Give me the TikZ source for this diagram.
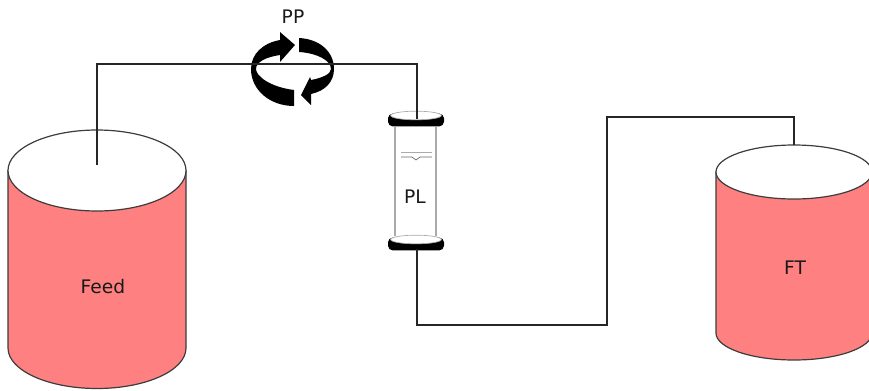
\documentclass[tikz,border=0pt]{standalone}
\usepackage{fontspec}
\setmainfont{DejaVu Sans}
\definecolor{TankRed}{RGB}{255,128,128}
\definecolor{TankEdge}{RGB}{60,60,60}
\definecolor{TubeGray}{RGB}{170,170,170}
\usetikzlibrary{shapes.geometric}

\begin{document}
\begin{tikzpicture}[x=0.75pt, y=-0.75pt,
  tankbody/.style={draw=TankEdge, fill=TankRed, line width=0.9pt},
  tanktop/.style={draw=TankEdge, fill=white, line width=0.9pt},
  pipe/.style={line width=0.9pt, black!85},
  tube/.style={line width=1.6pt, TubeGray},
  label/.style={font=\fontsize{14}{16}\selectfont, black!90},
  disc/.style={rectangle, rounded corners=3.5pt, fill=black, inner sep=0pt, minimum width=42pt, minimum height=9.5pt},
  rim/.style={ellipse, draw=TubeGray, fill=white, line width=0.5pt, inner sep=0pt, minimum width=38pt, minimum height=6.5pt}
]
\useasboundingbox (0,0) rectangle (869,390);

\draw[tankbody] (8,170.5) -- (8,348) arc[start angle=180, end angle=0, x radius=89, y radius=40.5] -- (186,170.5) -- cycle;
\draw[tanktop] (97,170.5) circle[x radius=89, y radius=40.5];
\draw[tankbody] (716,172) -- (716,333) arc[start angle=180, end angle=0, x radius=78, y radius=27] -- (872,172) -- cycle;
\draw[tanktop] (794,172) circle[x radius=78, y radius=27];
\node[label] (feedlabel) at (103,287) {Feed};
\node[label] (ftlabel) at (795,268) {FT};

\fill[black] (294,106) .. controls (270,106) and (251,90) .. (251,69)
  .. controls (251,54) and (263,43) .. (280,40) -- (280,32) -- (295,45) -- (280,62) -- (280,55)
  .. controls (266,57) and (256,62) .. (256,69)
  .. controls (256,76) and (270,87) .. (294,90) -- cycle;
\fill[black] (299,38) .. controls (320,39) and (334,52) .. (334,69)
  .. controls (334,82) and (325,91) .. (311,94) -- (311,105) -- (301,95) -- (310,77) -- (311,80)
  .. controls (322,78) and (331,74) .. (331,69)
  .. controls (331,60) and (316,53) .. (299,52) -- cycle;
\node[label] (pplabel) at (293,17) {PP};

\node[disc] (topbase) at (416,120) {};
\node[rim] (toprim) at (416,115.5) {};
\node[disc] (botbase) at (416,244) {};
\node[rim] (botrim) at (416,239.5) {};
\draw[tube] (395,126) -- (395,236);
\draw[tube] (436,126) -- (436,236);
\draw[line width=0.5pt, TubeGray] (401,152) -- (432,152);
\draw[line width=0.5pt, black!60] (401,157) -- (412,157) -- (416,160) -- (420,157) -- (432,157);
\node[label] (pllabel) at (415,197) {PL};

\coordinate (feedin) at (97,165);
\coordinate (ftin) at (794,145);
\coordinate (plin) at (417,119);
\coordinate (plout) at (417,249);
\draw[pipe] (feedin) -- (97,64) -- (417,64) -- (plin);
\draw[pipe] (plout) -- (417,325) -- (607,325) -- (607,117) -- (794,117) -- (ftin);
\end{tikzpicture}
\end{document}
